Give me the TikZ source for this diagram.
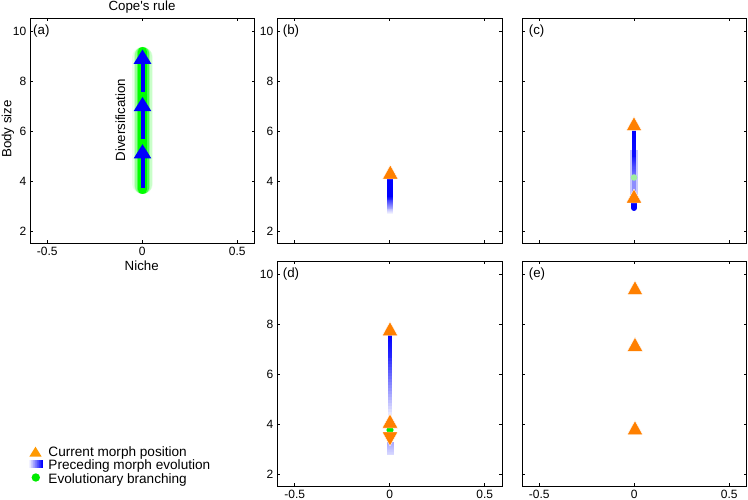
\documentclass[tikz,border=0pt]{standalone}
\usepackage{fontspec}
\setmainfont{Liberation Sans}[Ligatures=TeXOff]
\usetikzlibrary{arrows.meta}
\definecolor{morange}{RGB}{255,128,0}
\definecolor{lorange}{RGB}{255,153,0}
\definecolor{lgreen}{RGB}{160,240,160}
\definecolor{gglow}{RGB}{0,255,0}
\definecolor{bgreen}{RGB}{0,235,0}
\definecolor{mblue}{RGB}{0,0,255}
\newcommand\panelframe[2]{%
  \draw[frame] (#1,#2) rectangle ++(224.5,224.5);
  \foreach \t in {-0.5,0,0.5}{
    \draw[frame] ({#1+112.25+190*\t},#2) -- ++(0,2.8);
    \draw[frame] ({#1+112.25+190*\t},{#2+224.5}) -- ++(0,-2.8);
  }
  \foreach \v in {2,4,6,8,10}{
    \draw[frame] (#1,{#2+(10.5-\v)*25}) -- ++(2.8,0);
    \draw[frame] ({#1+224.5},{#2+(10.5-\v)*25}) -- ++(-2.8,0);
  }
}
\newcommand\vgrad[6]{%
  \foreach \i in {0,...,19}{
    \pgfmathsetmacro\pa{#5+(#6-#5)*\i/19}
    \pgfmathsetmacro\ya{#3+(#4-#3)*\i/20}
    \pgfmathsetmacro\yb{#3+(#4-#3)*(\i+1)/20}
    \fill[mblue!\pa!white] (#1,\ya) rectangle (#2,\yb);
  }
}
\begin{document}
\begin{tikzpicture}[x=1pt,y=-1pt,
  frame/.style={line width=0.9pt, black},
  ticklab/.style={inner sep=0pt, font=\fontsize{12}{14}\selectfont},
  biglab/.style={inner sep=0pt, font=\fontsize{13.3}{16}\selectfont},
  leglab/.style={inner sep=0pt, font=\fontsize{13.6}{16}\selectfont},
  uptri/.pic={\filldraw[fill=morange, draw=white, line width=0.4pt] (0,-7) -- (7.75,7) -- (-7.75,7) -- cycle;},
  downtri/.pic={\filldraw[fill=morange, draw=white, line width=0.4pt] (0,7) -- (7.75,-7) -- (-7.75,-7) -- cycle;}]
\useasboundingbox (0,0) rectangle (748,500);
\fill[white] (0,0) rectangle (748,500);

% ---------- panel (a)
\foreach \w/\o in {21/0.08,18/0.14,15/0.25,12/0.5,9/1}
  \draw[gglow, line width=\w, opacity=\o, line cap=round] (142.5,{47+\w/2}) -- (142.5,{194-\w/2});
\coordinate (a1s) at (142.5,188); \coordinate (a1e) at (142.5,144);
\coordinate (a2s) at (142.5,139); \coordinate (a2e) at (142.5,96.7);
\coordinate (a3s) at (142.5,91.7); \coordinate (a3e) at (142.5,49.3);
\foreach \n in {1,2,3}
  \draw[mblue, line width=4, -{Triangle[width=16.7pt,length=14.5pt]}] (a\n s) -- (a\n e);
\node[biglab, rotate=90, anchor=base] (div) at (125,120) {Diversification};
\panelframe{30}{18.5}
\node[biglab, anchor=base west] (la) at (33,34.5) {(a)};
\foreach \v in {2,4,6,8,10}
  \node[ticklab, anchor=east] (ya\v) at (26.5,{18.5+(10.5-\v)*25}) {\v};
\foreach \t/\s in {-0.5/-0.5,0/0,0.5/0.5}
  \node[ticklab, anchor=base] at ({142.25+190*\t},256) {\s};
\node[biglab, anchor=base] (niche) at (141.7,270) {Niche};
\node[biglab, anchor=base, rotate=90] (body) at (11.3,129) {Body size};
\node[biglab, anchor=base] (title) at (142,10.5) {Cope's rule};

% ---------- panel (b)
\vgrad{386.8}{393.2}{178}{196}{100}{100}
\vgrad{386.8}{393.2}{196}{214}{100}{5}
\pic (tb) at (390.3,172) {uptri};
\panelframe{277.5}{18.5}
\node[biglab, anchor=base west] (lb) at (282.7,34.5) {(b)};
\foreach \v in {2,4,6,8,10}
  \node[ticklab, anchor=east] (yb\v) at (273.5,{18.5+(10.5-\v)*25}) {\v};

% ---------- panel (c)
\fill[mblue!22!white] (630,150) rectangle (638,195);
\vgrad{631.6}{636.4}{130}{157}{100}{95}
\vgrad{631.6}{636.4}{157}{178}{90}{50}
\vgrad{631.6}{636.4}{178}{192}{45}{45}
\draw[mblue, line width=6, line cap=round] (634,199) -- (634,208);
\fill[lgreen] (634,177.5) circle (3.3);
\pic (tc1) at (634,123.7) {uptri};
\pic (tc2) at (634,196) {uptri};
\panelframe{522}{18.5}
\node[biglab, anchor=base west] (lc) at (528.7,34.5) {(c)};

% ---------- panel (d)
\vgrad{388}{392}{333}{358}{100}{85}
\vgrad{388}{392}{358}{418}{80}{6}
\vgrad{386.5}{393.5}{442}{455}{35}{15}
\fill[bgreen] (390,430) circle (3.6);
\pic (td1) at (390,328.7) {uptri};
\pic (td2) at (390,421) {uptri};
\pic (td3) at (390,439) {downtri};
\panelframe{277.5}{261.5}
\node[biglab, anchor=base west] (ld) at (282.7,277.5) {(d)};
\foreach \v in {2,4,6,8,10}
  \node[ticklab, anchor=east] (yd\v) at (273.5,{261.5+(10.5-\v)*25}) {\v};
\foreach \t/\s in {-0.5/-0.5,0/0,0.5/0.5}
  \node[ticklab, anchor=base] at ({389.75+190*\t},498.3) {\s};

% ---------- panel (e)
\pic (te1) at (635,287.7) {uptri};
\pic (te2) at (635,344.3) {uptri};
\pic (te3) at (635,427.7) {uptri};
\panelframe{522}{261.5}
\node[biglab, anchor=base west] (le) at (528.7,277.5) {(e)};
\foreach \t/\s in {-0.5/-0.5,0/0,0.5/0.5}
  \node[ticklab, anchor=base] at ({634.25+190*\t},498.3) {\s};

% ---------- legend
\fill[lorange] (29.3,456.7) -- (41.7,456.7) -- (35.5,446.7) -- cycle;
\foreach \i in {0,...,19}{
  \pgfmathsetmacro\pa{5+95*\i/19}
  \pgfmathsetmacro\xa{29.3+13.4*\i/20}
  \pgfmathsetmacro\xb{29.3+13.4*(\i+1)/20}
  \fill[mblue!\pa!white] (\xa,460) rectangle (\xb,468.3);
}
\fill[bgreen] (35.8,477.5) circle (4.2);
\node[leglab, anchor=base west] (leg1) at (48.3,456) {Current morph position};
\node[leglab, anchor=base west] (leg2) at (48.3,469.5) {Preceding morph evolution};
\node[leglab, anchor=base west] (leg3) at (48.3,483.3) {Evolutionary branching};
\end{tikzpicture}
\end{document}
